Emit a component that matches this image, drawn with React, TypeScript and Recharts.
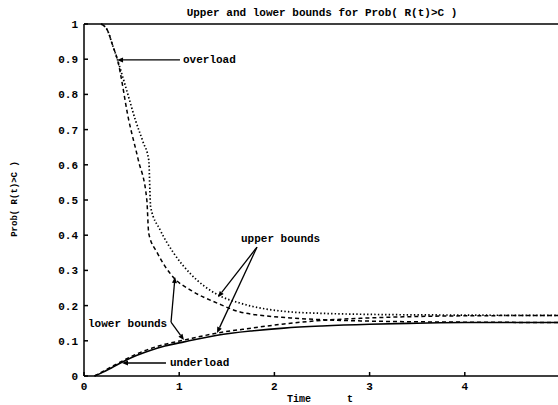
import { LineChart, Line, XAxis, YAxis, ReferenceLine, ReferenceDot } from 'recharts';

// upper bound, overload (dotted)
const overUpperT = [0.18, 0.25, 0.3, 0.35, 0.45, 0.54, 0.62, 0.68, 0.7, 0.8, 0.94, 1.12, 1.41, 1.64, 2.17, 2.5, 3, 4, 5];
const overUpperP = [1, 0.98, 0.94, 0.9, 0.81, 0.727, 0.665, 0.614, 0.48, 0.415, 0.35, 0.29, 0.23, 0.207, 0.182, 0.178, 0.175, 0.173, 0.172];

// lower bound, overload (dashed)
const overLowerT = [0.18, 0.25, 0.3, 0.35, 0.47, 0.57, 0.66, 0.68, 0.77, 0.94, 1.12, 1.4, 1.64, 2.17, 2.5, 3, 3.5, 4, 5];
const overLowerP = [1, 0.98, 0.94, 0.9, 0.727, 0.614, 0.5, 0.405, 0.35, 0.28, 0.244, 0.207, 0.182, 0.165, 0.16, 0.156, 0.154, 0.153, 0.152];

// upper bound, underload (dashed)
const underUpperT = [0.11, 0.2, 0.3, 0.42, 0.55, 0.71, 0.85, 1.05, 1.4, 1.76, 2.1, 2.5, 3, 3.5, 4, 5];
const underUpperP = [0, 0.013, 0.028, 0.045, 0.062, 0.079, 0.09, 0.102, 0.122, 0.136, 0.148, 0.158, 0.165, 0.169, 0.171, 0.172];

// lower bound, underload (solid)
const underLowerT = [0.11, 0.2, 0.3, 0.42, 0.55, 0.71, 0.85, 1.05, 1.4, 1.76, 2.1, 2.5, 3, 3.5, 4, 5];
const underLowerP = [0, 0.011, 0.025, 0.042, 0.058, 0.074, 0.085, 0.097, 0.116, 0.128, 0.136, 0.142, 0.147, 0.15, 0.152, 0.152];

const xTicks = [0, 1, 2, 3, 4];
const yTicks = [0, 0.1, 0.2, 0.3, 0.4, 0.5, 0.6, 0.7, 0.8, 0.9, 1];
const yTickLabels = ['0', '0.1', '0.2', '0.3', '0.4', '0.5', '0.6', '0.7', '0.8', '0.9', '1'];

// annotation text anchors (data coords) and arrows [from, to]
const notes = [
  { text: 'overload', t: 1.04, p: 0.898 },
  { text: 'upper bounds', t: 1.649, p: 0.389 },
  { text: 'lower bounds', t: 0.042, p: 0.148 },
  { text: 'underload', t: 0.903, p: 0.037 },
];
const arrows = [
  [[1.008, 0.898], [0.347, 0.898]],
  [[1.817, 0.366], [1.408, 0.224]],
  [[1.817, 0.366], [1.397, 0.122]],
  [[0.914, 0.153], [0.956, 0.281]],
  [[0.914, 0.153], [1.05, 0.102]],
  [[0.861, 0.037], [0.399, 0.037]],
];

const FONT = '"Liberation Mono", "DejaVu Sans Mono", monospace';

const toPoints = (ts: number[], ps: number[]) => ts.map((t, i) => ({ t, p: ps[i] }));

function Arrow(props: any) {
  const { x1, y1, x2, y2 } = props;
  const a = Math.atan2(y2 - y1, x2 - x1);
  const len = 6;
  const w = 2.5;
  const bx = x2 - len * Math.cos(a);
  const by = y2 - len * Math.sin(a);
  const pts = `${x2},${y2} ${bx - w * Math.sin(a)},${by + w * Math.cos(a)} ${bx + w * Math.sin(a)},${by - w * Math.cos(a)}`;
  return (
    <g>
      <line x1={x1} y1={y1} x2={bx} y2={by} stroke="#000" strokeWidth={1.3} />
      <polygon points={pts} fill="#000" />
    </g>
  );
}

function NoteText(props: any) {
  return (
    <text
      x={props.cx}
      y={props.cy}
      dominantBaseline="central"
      fontFamily={FONT}
      fontWeight={700}
      fontSize={11}
      fill="#000"
    >
      {props.label}
    </text>
  );
}

const tickStyle = { fill: '#000', fontSize: 11, fontFamily: FONT, fontWeight: 700 };
const lineStyle = { stroke: '#000', strokeWidth: 1.5 };

export default function App() {
  return (
    <div style={{ position: 'absolute', left: 0, top: 0, width: 558, height: 405, overflow: 'hidden', background: '#fff' }}>
      <div
        style={{
          position: 'absolute', left: 322, top: 8, transform: 'translateX(-50%)', whiteSpace: 'nowrap',
          fontFamily: FONT, fontWeight: 700, fontSize: 11, lineHeight: '11px',
        }}
      >
        Upper and lower bounds for Prob( R(t)&gt;C )
      </div>
      <div
        style={{
          position: 'absolute', left: 15, top: 199, transform: 'translate(-50%, -50%) rotate(-90deg)',
          whiteSpace: 'nowrap', fontFamily: FONT, fontWeight: 700, fontSize: 9, lineHeight: '9px',
        }}
      >
        Prob( R(t)&gt;C )
      </div>
      <div
        style={{
          position: 'absolute', left: 287, top: 395, whiteSpace: 'pre',
          fontFamily: FONT, fontWeight: 700, fontSize: 10, lineHeight: '10px',
        }}
      >
        {'Time      t'}
      </div>
      <LineChart width={562} height={405} margin={{ top: 23, right: 1, bottom: 0, left: 24 }}>
        <XAxis
          dataKey="t"
          type="number"
          domain={[0, 5]}
          ticks={xTicks}
          height={29}
          tickSize={-4}
          tickMargin={10}
          axisLine={lineStyle}
          tickLine={lineStyle}
          tick={tickStyle}
          interval={0}
        />
        <XAxis
          xAxisId="top"
          orientation="top"
          type="number"
          domain={[0, 5]}
          ticks={[1, 2, 3, 4]}
          height={1}
          tickSize={-4}
          axisLine={lineStyle}
          tickLine={lineStyle}
          tick={false}
        />
        <YAxis
          type="number"
          domain={[0, 1]}
          ticks={yTicks}
          width={60}
          tickSize={-4}
          tickMargin={10}
          axisLine={lineStyle}
          tickLine={lineStyle}
          tick={tickStyle}
          tickFormatter={(v: number) => yTickLabels[yTicks.indexOf(v)] ?? String(v)}
          interval={0}
        />
        <YAxis
          yAxisId="right"
          orientation="right"
          type="number"
          domain={[0, 1]}
          ticks={yTicks.slice(1, 10)}
          width={1}
          tickSize={-4}
          axisLine={lineStyle}
          tickLine={lineStyle}
          tick={false}
        />
        <Line
          data={toPoints(overUpperT, overUpperP)}
          dataKey="p"
          type="monotone"
          stroke="#000"
          strokeWidth={1.7}
          strokeDasharray="1.4 2.2"
          dot={false}
          activeDot={false}
          isAnimationActive={false}
        />
        <Line
          data={toPoints(overLowerT, overLowerP)}
          dataKey="p"
          type="monotone"
          stroke="#000"
          strokeWidth={1.5}
          strokeDasharray="4 3"
          dot={false}
          activeDot={false}
          isAnimationActive={false}
        />
        <Line
          data={toPoints(underUpperT, underUpperP)}
          dataKey="p"
          type="monotone"
          stroke="#000"
          strokeWidth={1.5}
          strokeDasharray="4 3"
          dot={false}
          activeDot={false}
          isAnimationActive={false}
        />
        <Line
          data={toPoints(underLowerT, underLowerP)}
          dataKey="p"
          type="monotone"
          stroke="#000"
          strokeWidth={1.6}
          dot={false}
          activeDot={false}
          isAnimationActive={false}
        />
        {arrows.map(([from, to], i) => (
          <ReferenceLine
            key={`a${i}`}
            segment={[{ x: from[0], y: from[1] }, { x: to[0], y: to[1] }]}
            shape={(p: any) => <Arrow {...p} />}
          />
        ))}
        {notes.map((n) => (
          <ReferenceDot
            key={n.text}
            x={n.t}
            y={n.p}
            r={0}
            shape={(p: any) => <NoteText {...p} label={n.text} />}
          />
        ))}
      </LineChart>
    </div>
  );
}
